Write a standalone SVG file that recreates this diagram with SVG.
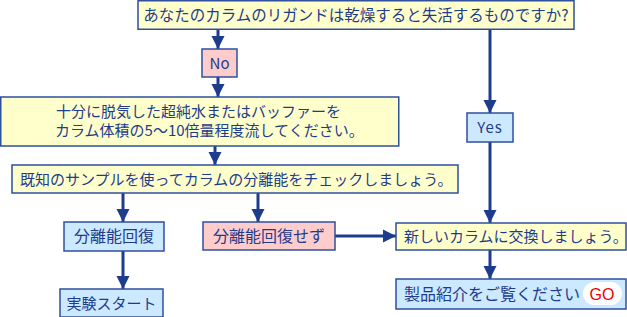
<svg xmlns="http://www.w3.org/2000/svg" width="627" height="317" viewBox="0 0 627 317">
<defs>
<style>
.y{fill:#ffffcc;stroke:#2f4f9f;stroke-width:1.5}
.b{fill:#cce9ff;stroke:#2f4f9f;stroke-width:1.5}
.p{fill:#ffcccc;stroke:#2f4f9f;stroke-width:1.5}
text{font-family:"Noto Sans CJK JP","Liberation Sans",sans-serif;font-size:15px;fill:#1e3c8c}
.c{text-anchor:middle}
.l{font-size:16px}
.ln{stroke:#1e3c8c;stroke-width:3;fill:none}
</style>
<marker id="ah" viewBox="0 0 10 10" refX="10" refY="5" markerWidth="4.5" markerHeight="4.5" markerUnits="strokeWidth" orient="auto">
<path d="M0,0L10,5L0,10z" fill="#1e3c8c"/>
</marker>
</defs>
<rect width="627" height="317" fill="#ffffff"/>
<g id="connectors">
<line class="ln" x1="218" y1="29" x2="218" y2="49" marker-end="url(#ah)"/>
<line class="ln" x1="218" y1="77" x2="218" y2="97" marker-end="url(#ah)"/>
<line class="ln" x1="490" y1="29" x2="490" y2="113" marker-end="url(#ah)"/>
<line class="ln" x1="490" y1="142" x2="490" y2="223" marker-end="url(#ah)"/>
<line class="ln" x1="215" y1="146" x2="215" y2="165" marker-end="url(#ah)"/>
<line class="ln" x1="123" y1="193" x2="123" y2="222" marker-end="url(#ah)"/>
<line class="ln" x1="258" y1="193" x2="258" y2="222" marker-end="url(#ah)"/>
<line class="ln" x1="123" y1="251" x2="123" y2="289" marker-end="url(#ah)"/>
<line class="ln" x1="335" y1="236" x2="396" y2="236" marker-end="url(#ah)"/>
<line class="ln" x1="490" y1="250" x2="490" y2="279" marker-end="url(#ah)"/>
</g>
<g id="q1">
<rect class="y" x="138" y="0.75" width="436" height="28.5"/>
<text class="c" x="356" y="21" style="font-size:15.5px">あなたのカラムのリガンドは乾燥すると失活するものですか?</text>
</g>
<g id="no">
<rect class="p" x="202" y="49" width="35" height="28"/>
<text class="c" x="219.5" y="69">No</text>
</g>
<g id="yes">
<rect class="b" x="467" y="113" width="46" height="29"/>
<text class="c" x="490" y="133" style="letter-spacing:1px">Yes</text>
</g>
<g id="wash">
<rect class="y" x="0.75" y="97" width="398" height="49"/>
<text x="56" y="117">十分に脱気した超純水またはバッファーを</text>
<text x="55" y="136">カラム体積の5～10倍量程度流してください。</text>
</g>
<g id="check">
<rect class="y" x="12" y="165" width="446" height="28"/>
<text x="20" y="185">既知のサンプルを使ってカラムの分離能をチェックしましょう。</text>
</g>
<g id="recovered">
<rect class="b" x="64" y="222" width="100" height="29"/>
<text class="c l" x="114" y="242">分離能回復</text>
</g>
<g id="start">
<rect class="b" x="60" y="289" width="103" height="28"/>
<text class="c" x="111.5" y="309">実験スタート</text>
</g>
<g id="notrecovered">
<rect class="p" x="203" y="222" width="132" height="28"/>
<text class="c l" x="269" y="242">分離能回復せず</text>
</g>
<g id="replace">
<rect class="y" x="396" y="223" width="230" height="27"/>
<text x="404" y="242">新しいカラムに交換しましょう。</text>
</g>
<g id="products">
<rect class="b" x="396" y="279" width="230" height="30"/>
<text class="l" x="404" y="300">製品紹介をご覧ください</text>
<rect x="583" y="282" width="39" height="23" rx="11.5" fill="#ffffff"/>
<text class="c" x="602" y="300" style="fill:#ee0000;font-family:'Liberation Sans',sans-serif;font-size:16px">GO</text>
</g>
</svg>
